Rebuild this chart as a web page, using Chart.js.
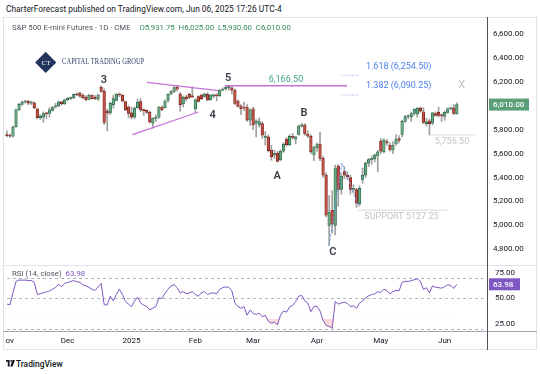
<!DOCTYPE html>
<html><head><meta charset="utf-8">
<script src="https://cdn.jsdelivr.net/npm/chart.js@4.4.1/dist/chart.umd.min.js"></script>
<style>
html,body{margin:0;padding:0;background:#fff;}
body{width:540px;height:374px;position:relative;overflow:hidden;font-family:Roboto,'Liberation Sans',sans-serif;color:#131722;}
.a{position:absolute;white-space:nowrap;}
canvas{position:absolute;left:0;}
</style></head>
<body>
<div class="a" style="left:3px;top:17px;width:534px;height:333px;border:1px solid #e0e3eb;box-sizing:border-box;"></div>
<canvas id="price" width="540" height="248" style="top:17px;"></canvas>
<canvas id="rsi" width="540" height="85" style="top:265px;"></canvas>
<div class="a" style="left:0px;top:332px;width:4.5px;height:17px;background:#fff;"></div>
<div class="a" style="left:3px;top:17px;width:1px;height:333px;background:#e0e3eb;"></div>
<div class="a" style="left:3px;top:265px;width:534px;height:1px;background:#e0e3eb;"></div>
<div class="a" style="left:3px;top:331px;width:534px;height:1px;background:#a3a6af;"></div>
<div class="a" style="left:487px;top:17px;width:1px;height:333px;background:#50535e;"></div>

<div class="a" style="left:6px;top:4px;font-size:8.4px;line-height:10px;">CharterForecast published on TradingView.com, Jun 06, 2025 17:26 UTC-4</div>
<div class="a" style="left:12px;top:23px;font-size:7.8px;line-height:10px;color:#50535e;">S&amp;P 500 E-mini Futures · 1D · CME</div>
<div class="a" style="left:139.5px;top:23px;font-size:7.8px;line-height:10px;color:#2e8a5c;">O5,931.75&nbsp; H6,025.00&nbsp; L5,930.00&nbsp; C6,010.00</div>

<div class="a" style="left:38px;top:54.8px;width:15.4px;height:15.4px;background:#23355f;transform:rotate(45deg);"></div>
<div class="a" style="left:40px;top:57.5px;width:12px;text-align:center;font-family:'Liberation Serif',serif;font-size:7px;line-height:10px;color:#fff;">CT</div>
<div class="a" style="left:62px;top:57.3px;font-family:'Liberation Serif',serif;font-size:7.8px;line-height:10px;color:#2b3a67;letter-spacing:0.1px;transform:scaleX(0.83);transform-origin:0 50%;">CAPITAL TRADING GROUP</div>

<svg class="a" style="left:6px;top:360px;" width="9" height="7" viewBox="0 0 9 7"><path d="M0 0H3.6V6.4H1.8V1.8H0Z M4.2 6.4L6.6 0H9L6.6 6.4Z" fill="#131722"/><circle cx="5.1" cy="1" r="0.9" fill="#131722"/></svg>
<div class="a" style="left:16px;top:358.5px;font-size:8.4px;line-height:10px;font-weight:500;">TradingView</div>

<script>
// ---------- data (daily ES futures, Nov 1 2024 .. Jun 6 2025) ----------
const opens = [5760,5752,5745,5825,5965,6012,6030,6038,6022,6025,5975,5900,5905,5935,5935,5962,5990,5998,6032,6015,
6050,6062,6068,6096,6105,6090,6070,6052,6088,6070,6055,6155,6122,5955,5940,6010,6045,6098,6088,6034,5990,
5940,5905,5985,6035,5965,5962,5945,5855,5895,5905,5990,5985,6045,6098,6120,6155,6100,6015,6075,6095,6080,
5975,6076,6090,6078,6095,6050,6080,6090,6085,6130,6142,6150,6150,6132,6040,6000,5985,5990,5880,
5975,5855,5840,5850,5735,5740,5630,5590,5605,5548,5620,5720,5675,5745,5720,5760,5830,5840,5762,5745,5590,
5650,5680,5560,5420,5000,5125,5000,5495,5300,5450,5420,5400,5300,5300,5180,5385,5420,5520,5550,5555,5580,
5705,5615,5700,5670,5630,5680,5725,5760,5870,5910,5905,5935,5930,5980,5950,5850,5875,5855,5935,5945,5925,
5910,5945,5975,5980,5931.75];
const highs = [5790,5765,5830,5975,6020,6040,6048,6045,6040,6032,5980,5925,5950,5945,5985,5995,6020,6040,6040,6055,
6070,6072,6100,6110,6115,6100,6085,6095,6092,6085,6100,6165,6142,5972,6030,6090,6102,6108,6095,6040,6002,
5990,5990,6055,6060,5975,5968,5955,5900,5925,5995,6000,6050,6100,6130,6160,6168,6110,6080,6090,6105,6158,
6060,6085,6100,6105,6110,6095,6098,6100,6135,6150,6160,6166.5,6160,6140,6050,6010,6030,6010,5975,
5990,5885,5900,5865,5785,5755,5670,5630,5620,5632,5690,5735,5760,5770,5745,5840,5853,5848,5790,5760,5660,
5690,5780,5575,5440,5250,5290,5505,5510,5430,5490,5450,5420,5340,5310,5330,5480,5530,5560,5580,5595,5625,
5725,5725,5720,5690,5700,5760,5750,5880,5920,5925,5945,5975,5985,5990,5985,5895,5890,5945,5950,5990,5935,
5955,5985,5990,6010,6025];
const lows = [5740,5735,5738,5820,5960,6005,6022,6010,6010,5975,5890,5885,5860,5890,5905,5955,5980,5990,6005,6012,
6040,6050,6060,6085,6070,6060,6040,6048,6055,6052,6045,6112,5845,5790,5925,5980,6040,6075,6030,5960,5898,
5890,5895,5980,5950,5920,5935,5855,5812,5870,5895,5960,5980,6030,6090,6110,6125,5952,5990,6040,6060,6065,
5945,6030,6050,6070,6040,6045,6065,6040,6075,6125,6130,6130,6100,6010,5990,5925,5960,5870,5835,
5800,5740,5820,5730,5670,5615,5545,5560,5530,5540,5610,5660,5665,5720,5680,5755,5820,5755,5735,5600,5540,
5620,5540,5400,5070,4832,4935,4920,5160,5260,5390,5385,5260,5270,5150,5160,5350,5400,5490,5510,5530,5450,
5600,5605,5670,5620,5600,5670,5690,5740,5860,5890,5870,5920,5905,5945,5850,5830,5756.5,5840,5910,5905,5870,
5880,5935,5965,5925,5930];
const closes = [5750,5745,5822,5965,6012,6030,6038,6022,6025,5982,5900,5915,5935,5932,5965,5985,6000,6032,6015,6050,
6062,6068,6096,6090,6080,6065,6050,6088,6060,6058,6090,6120,5860,5938,6020,6060,6095,6090,6040,5965,5937,
5905,5980,6030,5965,5960,5945,5865,5895,5900,5990,5968,6040,6095,6118,6152,6138,6010,6070,6060,6070,6075,
6050,6036,6060,6098,6048,6090,6092,6082,6130,6140,6155,6162,6130,6020,5995,5975,5980,5880,5965,
5840,5875,5868,5755,5745,5625,5575,5600,5535,5620,5680,5675,5745,5735,5740,5830,5840,5765,5745,5615,5650,
5675,5560,5420,5085,5110,5010,5480,5300,5410,5420,5405,5300,5310,5185,5310,5420,5520,5550,5555,5590,5615,
5620,5712,5690,5630,5670,5720,5710,5870,5910,5915,5935,5970,5980,5955,5860,5865,5850,5940,5920,5920,5915,
5945,5975,5978,5935,6010];
const rsi = [44.5,43.8,55.6,66.9,68.2,68.0,68.2,67.5,67.8,65.9,53.9,54.8,55.6,56.5,57.4,59.1,60.8,64.2,61.4,64.9,
65.8,66.9,67.6,66.5,65.9,63.5,62.4,61.0,59.1,57.8,61.4,64.9,43.8,43.6,52.3,47.8,53.9,59.1,54.0,47.0,
44.5,42.0,47.5,51.3,45.5,43.5,42.0,38.7,40.5,42.0,50.6,50.0,55.0,59.1,62.4,63.5,60.7,55.6,56.7,54.6,
55.5,56.7,53.9,52.3,55.6,56.7,53.9,55.2,55.6,54.6,59.1,60.7,61.4,61.0,57.5,45.5,42.0,40.3,42.0,33.5,
38.7,35.3,34.2,35.5,31.9,33.5,27.4,25.5,26.7,24.0,33.5,37.7,36.5,42.0,43.0,47.1,52.3,53.0,47.8,45.5,
37.0,42.0,42.5,37.7,28.5,23.4,22.5,20.6,47.1,44.5,45.5,46.5,45.2,42.0,42.8,40.3,45.5,47.5,50.6,52.5,
53.9,54.6,56.7,56.0,59.1,57.8,54.6,56.7,58.0,57.5,65.9,66.9,66.8,67.6,68.5,69.3,66.9,59.1,60.5,55.6,
62.4,61.0,60.7,60.2,61.5,63.5,62.8,60.0,63.98];

const priceTicks = [6600,6400,6200,5800,5600,5400,5200,5000,4800];
const rsiTicks = [75,50,25];
const rsiBands = [70,50,20];
const rsiOversold = 30;
const monthLabels = ['Nov','Dec','2025','Feb','Mar','Apr','May','Jun'];
const monthIdx = [0,20,41,62,81,102,123,144];

// annotations in data coordinates (bar index, price)
const waveLabels = ['3','4','5','A','B','C'];
const waveIdx = [31.9,67.7,72.8,88.9,97.7,107.2];
const wavePrice = [6216,5923,6230,5413,5937,4775];
const triUpperIdx = [46.1,69.5], triUpperPrice = [6196,6126];
const triLowerIdx = [41.3,63.0], triLowerPrice = [5759,5948];
const wave5Level = 6166.5, wave5Idx = [71.7,111.9], wave5Text = '6,166.50', wave5TextIdx = 91.8;
const fibRatios = ['1.618','1.382'], fibLevels = [6254.5,6090.25], fibIdx = [110.2,115.5], fibTextIdx = 118.1;
const supLevels = [5756.5,5127.25], supFrom = [139.2,115.5], supTo = [154,144.8];
const supTexts = ['5,756.50','SUPPORT 5127.25'], supTextIdx = [146.4,129.8];
const zigIdx = [106,110.2,115.5], zigPrice = [4832,5522,5170];
const xMarkIdx = 149.6, xMarkPrice = 6174;

// ---------- styling ----------
const X_MIN = -1.283, X_MAX = 158.09;
const UP_FILL='#68a882', UP_LINE='#22603e', DN_FILL='#bf5245', DN_LINE='#731812', WICK='#a0a0a0';
const FONT = 'Roboto';
const fmt2 = v => v.toLocaleString('en-US',{minimumFractionDigits:2,maximumFractionDigits:2});
const fitY = s => { s.width = 52.5; s.paddingTop = 0; s.paddingBottom = 0; };

const idx = closes.map((_,i)=>i);
const up = idx.map(i=>closes[i]>=opens[i]);

const annot = {
  id:'annot',
  afterDraw(chart){
    const {ctx, scales:{x,y}, chartArea:ca} = chart;
    const px=v=>x.getPixelForValue(v), py=v=>y.getPixelForValue(v);
    ctx.save();
    const line=(x1,y1,x2,y2)=>{ctx.beginPath();ctx.moveTo(x1,y1);ctx.lineTo(x2,y2);ctx.stroke();};
    ctx.strokeStyle='#c86fdc'; ctx.lineWidth=1.2;
    line(px(triUpperIdx[0]),py(triUpperPrice[0]),px(triUpperIdx[1]),py(triUpperPrice[1]));
    line(px(triLowerIdx[0]),py(triLowerPrice[0]),px(triLowerIdx[1]),py(triLowerPrice[1]));
    ctx.lineWidth=1.5;
    line(px(wave5Idx[0]),py(wave5Level),px(wave5Idx[1]),py(wave5Level));
    ctx.font='9px '+FONT; ctx.fillStyle='#3c9f86'; ctx.textAlign='center'; ctx.textBaseline='middle';
    ctx.fillText(wave5Text, px(wave5TextIdx), py(wave5Level)-6.5);
    ctx.strokeStyle='#8fb0f5'; ctx.lineWidth=1; ctx.setLineDash([1,1.5]);
    fibLevels.forEach(l=>line(px(fibIdx[0]),py(l),px(fibIdx[1]),py(l)));
    ctx.setLineDash([]);
    ctx.fillStyle='#4d80ec'; ctx.textAlign='left'; ctx.font='9px '+FONT;
    fibLevels.forEach((l,k)=>ctx.fillText(fibRatios[k]+' ('+fmt2(l)+')', px(fibTextIdx), py(l)-9));
    ctx.strokeStyle='#d9d9d9'; ctx.lineWidth=1;
    supLevels.forEach((l,k)=>line(px(supFrom[k]),py(l),px(supTo[k]),py(l)));
    ctx.fillStyle='#c4c4c4'; ctx.textAlign='center';
    supLevels.forEach((l,k)=>ctx.fillText(supTexts[k], px(supTextIdx[k]), py(l)+6.8));
    ctx.strokeStyle='#6c9cf2'; ctx.setLineDash([2.5,2]); ctx.lineWidth=1;
    ctx.beginPath(); zigIdx.forEach((v,k)=>{k?ctx.lineTo(px(v),py(zigPrice[k])):ctx.moveTo(px(v),py(zigPrice[k]));}); ctx.stroke();
    ctx.setLineDash([]);
    ctx.font='600 11px '+FONT; ctx.fillStyle='#3a3d45';
    waveLabels.forEach((t,k)=>ctx.fillText(t, px(waveIdx[k]), py(wavePrice[k])));
    ctx.font='11px '+FONT; ctx.fillStyle='#c3c3c3';
    ctx.fillText('X', px(xMarkIdx), py(xMarkPrice));
    const last = closes[closes.length-1], yl = py(last);
    ctx.fillStyle='#5a9e78'; ctx.fillRect(ca.right+1.5, yl-6, 40, 12);
    ctx.fillStyle='#fff'; ctx.font='500 8px '+FONT; ctx.textAlign='left';
    ctx.fillText(fmt2(last), ca.right+5.5, yl+0.5);
    ctx.restore();
  }
};

new Chart(document.getElementById('price'), {
  type:'bar',
  data:{datasets:[
    {data: idx.map(i=>({x:i,y:[opens[i],closes[i]]})), backgroundColor: up.map(u=>u?UP_FILL:DN_FILL),
     borderColor: up.map(u=>u?UP_LINE:DN_LINE), borderWidth:0.7, borderSkipped:false, barThickness:2.6,
     minBarLength:1, grouped:false, order:0},
    {data: idx.map(i=>({x:i,y:[lows[i],highs[i]]})), backgroundColor: WICK, borderWidth:0,
     barThickness:1, grouped:false, order:1}
  ]},
  options:{
    responsive:false, animation:false, devicePixelRatio:1,
    layout:{padding:{left:3,top:0,right:0,bottom:0}},
    plugins:{legend:{display:false}, tooltip:{enabled:false}},
    scales:{
      x:{type:'linear', min:X_MIN, max:X_MAX, offset:false, display:false},
      y:{position:'right', min:4668.7, max:6742.1, grid:{display:false, drawTicks:false}, border:{display:false},
         afterBuildTicks:s=>{s.ticks=priceTicks.map(v=>({value:v}));},
         afterFit:fitY,
         ticks:{autoSkip:false, padding:5.5, color:'#131722', font:{size:8,family:FONT}, callback:v=>fmt2(v)}}
    }
  },
  plugins:[annot]
});

const rsiPlug = {
  id:'rsiPlug',
  beforeDatasetsDraw(chart){
    const {ctx, scales:{y}, chartArea:ca} = chart;
    ctx.save(); ctx.strokeStyle='#b2b5be'; ctx.lineWidth=1; ctx.setLineDash([3,3]);
    rsiBands.forEach(b=>{const yy=Math.round(y.getPixelForValue(b))+0.5; ctx.beginPath(); ctx.moveTo(ca.left+4,yy); ctx.lineTo(ca.right-4,yy); ctx.stroke();});
    ctx.restore();
  },
  afterDraw(chart){
    const {ctx, scales:{y}, chartArea:ca} = chart;
    const last = rsi[rsi.length-1], yl = y.getPixelForValue(last);
    ctx.save();
    ctx.fillStyle='#7e57c2'; ctx.fillRect(ca.right+1.5, yl-6, 31, 12);
    ctx.fillStyle='#fff'; ctx.font='500 8px '+FONT; ctx.textBaseline='middle'; ctx.textAlign='left';
    ctx.fillText(last.toFixed(2), ca.right+5.5, yl+0.5);
    ctx.restore();
  }
};

new Chart(document.getElementById('rsi'), {
  type:'line',
  data:{datasets:[{data: idx.map(i=>({x:i,y:rsi[i]})), borderColor:'#7e57c2', borderWidth:1, pointRadius:0, tension:0,
    fill:{target:{value:rsiOversold}, above:'rgba(0,0,0,0)', below:'rgba(242,54,69,0.2)'}}]},
  options:{
    responsive:false, animation:false, devicePixelRatio:1,
    layout:{padding:{left:3,top:0,right:0,bottom:0}},
    plugins:{legend:{display:false}, tooltip:{enabled:false}},
    scales:{
      x:{type:'linear', min:X_MIN, max:X_MAX, offset:false, grid:{display:false, drawTicks:false}, border:{display:false},
         afterBuildTicks:s=>{s.ticks=monthIdx.map(v=>({value:v}));},
         afterFit:s=>{s.height=19; s.paddingLeft=0; s.paddingRight=0;},
         ticks:{autoSkip:false, maxRotation:0, padding:5, color:'#131722', font:{size:8,family:FONT},
                callback:(v,k)=>monthLabels[k]}},
      y:{position:'right', min:17.95, max:83, grid:{display:false, drawTicks:false}, border:{display:false},
         afterBuildTicks:s=>{s.ticks=rsiTicks.map(v=>({value:v}));},
         afterFit:fitY,
         ticks:{autoSkip:false, padding:7.5, color:'#131722', font:{size:8,family:FONT}, callback:v=>v.toFixed(2)}}
    }
  },
  plugins:[rsiPlug]
});
</script>
<div class="a" style="left:12px;top:269px;font-size:7.8px;line-height:10px;color:#50535e;">RSI (14, close)&nbsp; <span style="color:#7e57c2;">63.98</span></div>
</body></html>
